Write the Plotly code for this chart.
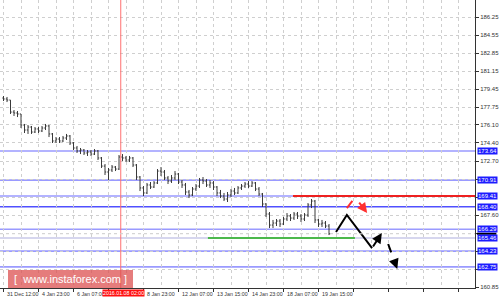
import plotly.graph_objects as go

# ---------------- data ----------------
bar_index = list(range(94))
open_ = [178.63, 178.54, 178.44, 177.31, 177.22, 177.13, 176.09, 175.62, 175.90, 175.43,
         175.72, 175.53, 175.81, 176.00, 175.25, 174.59, 174.77, 174.59, 174.87, 175.06,
         174.40, 173.93, 173.65, 173.74, 173.46, 173.55, 173.36, 173.65, 172.99, 172.23,
         171.67, 171.86, 172.14, 171.95, 173.08, 172.99, 172.80, 172.99, 172.33, 171.20,
         170.17, 169.70, 170.45, 170.26, 170.64, 171.76, 171.67, 171.11, 170.82, 171.11,
         171.48, 170.73, 170.45, 169.79, 169.51, 170.07, 170.35, 170.92, 170.82, 170.45,
         170.64, 170.26, 169.70, 169.41, 169.13, 169.51, 169.88, 169.70, 170.17, 170.35,
         170.54, 170.35, 170.64, 170.07, 169.60, 168.66, 167.72, 166.68, 166.87, 167.06,
         166.78, 167.25, 167.53, 167.34, 167.72, 167.53, 167.25, 167.63, 168.57, 168.94,
         167.16, 166.78, 166.87, 166.59]
high = [178.82, 178.73, 178.44, 177.50, 177.41, 177.13, 176.19, 176.09, 176.00, 175.90,
        175.90, 176.00, 176.19, 176.09, 175.34, 174.96, 174.96, 175.06, 175.25, 175.15,
        174.49, 174.12, 173.93, 173.83, 173.74, 173.74, 173.83, 173.74, 173.08, 172.42,
        172.05, 172.33, 172.23, 173.27, 173.36, 173.18, 173.18, 173.08, 172.42, 171.29,
        170.35, 170.64, 170.73, 170.82, 171.95, 172.14, 171.86, 171.29, 171.39, 171.76,
        171.58, 170.92, 170.64, 169.98, 170.26, 170.54, 171.11, 171.20, 171.01, 170.92,
        170.82, 170.35, 169.98, 169.70, 169.79, 170.07, 170.17, 170.35, 170.54, 170.73,
        170.82, 170.82, 170.73, 170.26, 169.70, 168.75, 167.91, 167.16, 167.25, 167.25,
        167.44, 167.81, 167.72, 167.91, 167.91, 167.72, 167.81, 168.75, 169.13, 169.04,
        167.25, 167.16, 167.06, 166.78]
low = [178.35, 178.25, 177.13, 176.94, 176.84, 175.81, 175.34, 175.25, 175.25, 175.34,
       175.34, 175.43, 175.62, 174.96, 174.40, 174.40, 174.40, 174.49, 174.68, 174.21,
       173.74, 173.46, 173.36, 173.27, 173.18, 173.18, 173.27, 172.80, 172.05, 171.39,
       170.92, 171.67, 171.76, 171.86, 172.71, 172.61, 172.61, 172.14, 170.92, 169.88,
       169.41, 169.60, 170.07, 170.17, 170.54, 171.29, 170.92, 170.54, 170.64, 170.92,
       170.54, 170.17, 169.51, 169.22, 169.41, 169.88, 170.17, 170.54, 170.26, 170.17,
       169.98, 169.41, 169.22, 168.94, 168.85, 169.32, 169.51, 169.60, 169.98, 170.17,
       170.17, 170.26, 169.88, 169.41, 168.38, 167.44, 166.40, 166.40, 166.59, 166.50,
       166.68, 167.06, 167.06, 167.16, 167.25, 166.97, 167.06, 167.44, 168.28, 166.87,
       166.50, 166.50, 166.40, 165.74]
close = [178.54, 178.44, 177.31, 177.22, 177.13, 176.09, 175.62, 175.90, 175.43, 175.72,
         175.53, 175.81, 176.00, 175.25, 174.59, 174.77, 174.59, 174.87, 175.06, 174.40,
         173.93, 173.65, 173.74, 173.46, 173.55, 173.36, 173.65, 172.99, 172.23, 171.67,
         171.86, 172.14, 171.95, 173.08, 172.99, 172.80, 172.99, 172.33, 171.20, 170.17,
         169.70, 170.45, 170.26, 170.64, 171.76, 171.67, 171.11, 170.82, 171.11, 171.48,
         170.73, 170.45, 169.79, 169.51, 170.07, 170.35, 170.92, 170.82, 170.45, 170.64,
         170.26, 169.70, 169.41, 169.13, 169.51, 169.88, 169.70, 170.17, 170.35, 170.54,
         170.35, 170.64, 170.07, 169.60, 168.66, 167.72, 166.68, 166.87, 167.06, 166.78,
         167.25, 167.53, 167.34, 167.72, 167.53, 167.25, 167.63, 168.57, 168.94, 167.16,
         166.78, 166.87, 166.59, 165.86]

x_tick_index = [0, 10, 20, 30, 40, 50, 60, 70, 80, 90]
x_tick_labels = ["31 Dec 12:00", "4 Jan 23:00", "6 Jan 07:00", "", "8 Jan 23:00",
                 "12 Jan 07:00", "13 Jan 15:00", "14 Jan 23:00", "18 Jan 07:00", "19 Jan 15:00"]
grid_index = list(range(0, 140, 10))

y_tick_vals = [186.25, 184.55, 182.85, 181.15, 179.45, 177.75, 176.10, 174.40, 172.70,
               171.00, 169.30, 167.60, 165.90, 164.20, 162.50, 160.85]
y_tick_text = ["186.25", "184.55", "182.85", "181.15", "179.45", "177.75", "176.10", "174.40",
               "172.70", "", "", "167.60", "", "", "", "160.85"]

level_prices = [173.64, 170.91, 169.41, 168.40, 166.29, 165.46, 164.23, 162.75]
level_labels = ["173.64", "170.91", "169.41", "168.40", "166.29", "165.46", "164.23", "162.75"]
level_colors = ["#9a9aff", "#9a9aff", "#9a9aff", "#5050ff", "#9a9aff", "#c8c8e8", "#9a9aff", "#9a9aff"]

current_price = 165.86
red_level = 169.41
red_level_start = 82.7
green_level = 165.46
green_start, green_end = 58.4, 100.4
marker_bar = 33.5
marker_label = "2016.01.08 02:00"

black_path_x = [95.0, 98.1, 105.3]
black_path_y = [166.03, 167.63, 164.52]
black_arrow = (105.3, 164.52, 108.1, 165.93)
black_dash_x = [109.9, 112.2]
black_dash_y = [164.90, 162.80]
black_dash_arrow = (111.6, 163.35, 112.5, 162.55)
red_dash_x = [98.1, 99.9]
red_dash_y = [168.28, 169.04]
red_arrow = (101.3, 168.94, 103.9, 167.81)

# ---------------- figure ----------------
fig = go.Figure()
fig.add_trace(go.Ohlc(
    x=bar_index, open=open_, high=high, low=low, close=close,
    increasing=dict(line=dict(color="#3a3a3a", width=1)),
    decreasing=dict(line=dict(color="#3a3a3a", width=1)),
    tickwidth=0.35, hoverinfo="skip"))

shapes = []
for p, c in zip(level_prices, level_colors):
    shapes.append(dict(type="line", xref="paper", x0=0, x1=1, yref="y", y0=p, y1=p,
                       line=dict(color=c, width=1.6), layer="below"))
shapes.append(dict(type="line", xref="x", x0=red_level_start, x1=134.71, yref="y",
                   y0=red_level, y1=red_level, line=dict(color="#ee2020", width=2)))
shapes.append(dict(type="line", xref="x", x0=green_start, x1=green_end, yref="y",
                   y0=green_level, y1=green_level, line=dict(color="#4cb84c", width=2)))
shapes.append(dict(type="line", xref="x", x0=marker_bar, x1=marker_bar, yref="paper",
                   y0=0, y1=1, line=dict(color="#ff7070", width=1)))
shapes.append(dict(type="line", xref="paper", x0=0, x1=1, yref="y", y0=current_price,
                   y1=current_price, line=dict(color="#d8d8d8", width=1, dash="dot")))
# current price marker on the axis
shapes.append(dict(type="line", xref="paper", x0=1.004, x1=1.045, yref="y", y0=current_price,
                   y1=current_price, line=dict(color="black", width=2)))
# watermark box
shapes.append(dict(type="rect", xref="paper", yref="paper", x0=8/475, x1=133/475,
                   y0=0, y1=18/288, fillcolor="rgba(220,80,80,0.75)",
                   line=dict(width=0)))

fig.add_trace(go.Scatter(x=black_path_x, y=black_path_y, mode="lines",
                         line=dict(color="black", width=2), hoverinfo="skip"))
fig.add_trace(go.Scatter(x=black_dash_x, y=black_dash_y, mode="lines",
                         line=dict(color="black", width=2, dash="dash"), hoverinfo="skip"))
fig.add_trace(go.Scatter(x=red_dash_x, y=red_dash_y, mode="lines",
                         line=dict(color="#ff3030", width=2, dash="dash"), hoverinfo="skip"))

ann = []
for (x0, y0, x1, y1), col in [(black_arrow, "black"), (black_dash_arrow, "black"), (red_arrow, "#ff3030")]:
    ann.append(dict(x=x1, y=y1, ax=x0, ay=y0, xref="x", yref="y", axref="x", ayref="y",
                    showarrow=True, arrowhead=2, arrowsize=1, arrowwidth=2, arrowcolor=col, text=""))

for xi, t in zip(x_tick_index, x_tick_labels):
    if t:
        ann.append(dict(x=xi, y=0, xref="x", yref="paper", yanchor="top", xanchor="left",
                        xshift=1, yshift=-1, text=t, showarrow=False,
                        font=dict(size=5.3, color="#333", family="Liberation Sans")))
ann.append(dict(x=marker_bar, y=0, xref="x", yref="paper", yanchor="top", xanchor="center",
                xshift=3, yshift=-1, text=marker_label, showarrow=False, bgcolor="#ff1010",
                borderpad=0, font=dict(size=5.3, color="white", family="Liberation Sans")))

for p, t in zip(level_prices, level_labels):
    ann.append(dict(x=1, y=p, xref="paper", yref="y", xanchor="left", xshift=2,
                    text=t, showarrow=False, bgcolor="#1c1cff", borderpad=0,
                    font=dict(size=6, color="white", family="Liberation Sans")))

ann.append(dict(x=70.5/475, y=9/288, xref="paper", yref="paper", xanchor="center",
                yanchor="middle", text="[  www.instaforex.com ]", showarrow=False,
                font=dict(size=11, color="white", family="Liberation Sans")))

fig.update_layout(
    width=500, height=299, margin=dict(l=0, r=25, t=0, b=11),
    paper_bgcolor="white", plot_bgcolor="white", showlegend=False,
    shapes=shapes, annotations=ann,
    xaxis=dict(range=[-1, 134.71], tickvals=grid_index, showticklabels=False,
               ticks="outside", ticklen=3, tickcolor="#333",
               showgrid=True, gridcolor="#cfcfcf", griddash="dot", gridwidth=1,
               minor=dict(dtick=5, tick0=0, showgrid=True, gridcolor="#cfcfcf",
                          griddash="dot", gridwidth=1),
               showline=True, linecolor="#333", linewidth=1, zeroline=False,
               rangeslider=dict(visible=False), fixedrange=True),
    yaxis=dict(side="right", range=[160.76, 187.85], tickvals=y_tick_vals,
               ticktext=y_tick_text, ticks="outside", ticklen=3, tickcolor="#333",
               tickfont=dict(size=6, color="#333", family="Liberation Sans"),
               showgrid=True, gridcolor="#cfcfcf", griddash="dot", gridwidth=1,
               showline=True, linecolor="#333", linewidth=1, zeroline=False,
               fixedrange=True),
)

fig.write_html("out.html")
